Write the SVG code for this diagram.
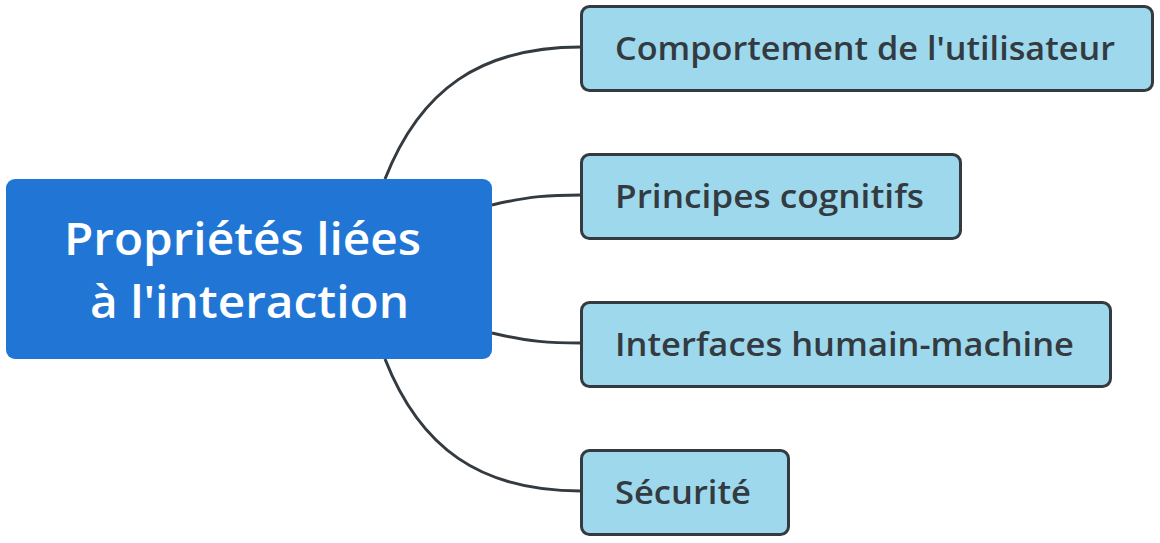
<svg xmlns="http://www.w3.org/2000/svg" width="1160" height="543" viewBox="0 0 1160 543">
<style>
.conn{fill:none;stroke:#333a40;stroke-width:3}
.child rect{fill:#9ed8ed;stroke:#333a40;stroke-width:3}
.child text{font-family:"Open Sans",Lato,sans-serif;font-weight:600;font-size:32px;fill:#333a40}
.root rect{fill:#2176d5}
.root text{font-family:"Open Sans",Lato,sans-serif;font-weight:600;font-size:45px;fill:#ffffff}
</style>
<rect width="1160" height="543" fill="#ffffff"/>
<g id="connectors">
<path class="conn" d="M385,179 C420,90 480,47 581,47"/>
<path class="conn" d="M492,205 C530,196 550,195 581,195"/>
<path class="conn" d="M492,333 C530,342 550,343 581,343"/>
<path class="conn" d="M385,359 C420,448 480,491 581,491"/>
</g>
<g id="root" class="root">
<rect x="6" y="179" width="486" height="180" rx="9"/>
<text x="64" y="255" textLength="357" lengthAdjust="spacingAndGlyphs">Propriétés liées</text>
<text x="90" y="318" textLength="319" lengthAdjust="spacingAndGlyphs">à l'interaction</text>
</g>
<g id="n1" class="child">
<rect x="581.5" y="6.5" width="571" height="84" rx="8"/>
<text x="615" y="60" textLength="500" lengthAdjust="spacingAndGlyphs">Comportement de l'utilisateur</text>
</g>
<g id="n2" class="child">
<rect x="581.5" y="154.5" width="379" height="84" rx="8"/>
<text x="615" y="208" textLength="309" lengthAdjust="spacingAndGlyphs">Principes cognitifs</text>
</g>
<g id="n3" class="child">
<rect x="581.5" y="302.5" width="529" height="84" rx="8"/>
<text x="615" y="356" textLength="459" lengthAdjust="spacingAndGlyphs">Interfaces humain-machine</text>
</g>
<g id="n4" class="child">
<rect x="581.5" y="450.5" width="207" height="84" rx="8"/>
<text x="615" y="504" textLength="136" lengthAdjust="spacingAndGlyphs">Sécurité</text>
</g>
</svg>
